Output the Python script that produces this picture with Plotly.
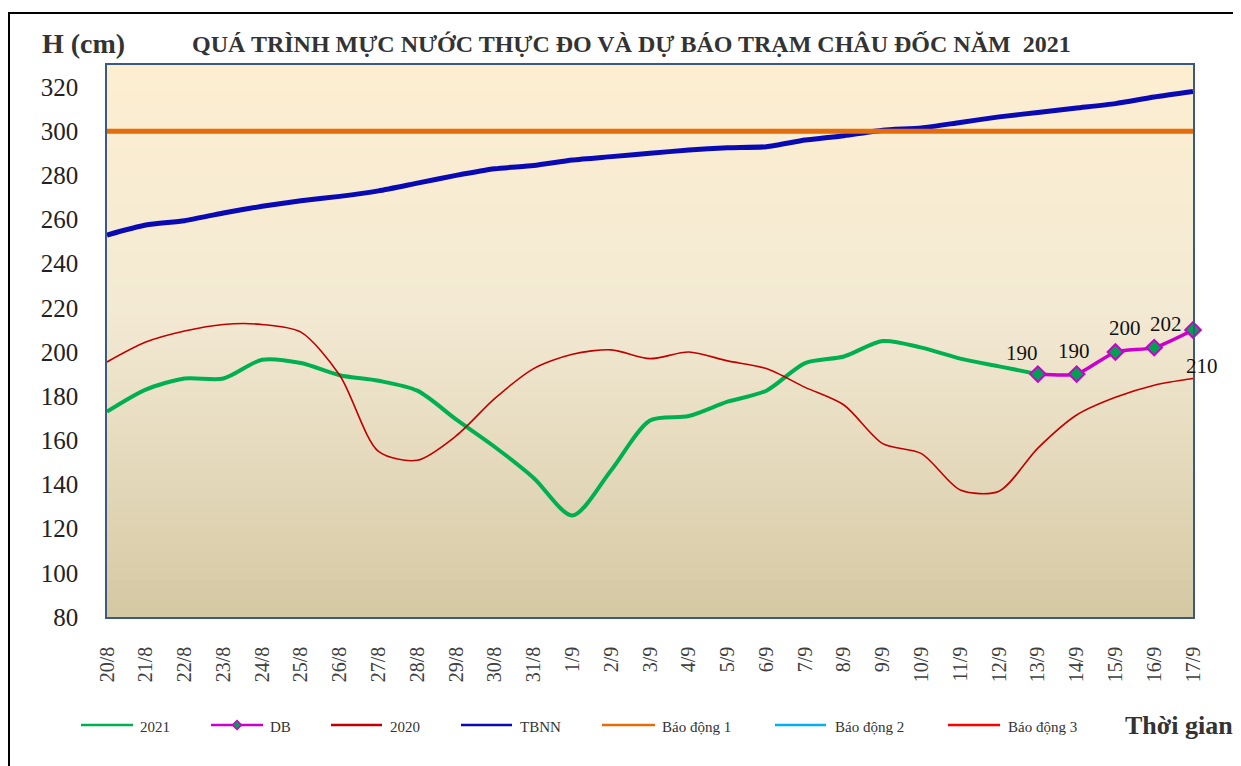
import plotly.graph_objects as go

dates = ["20/8", "21/8", "22/8", "23/8", "24/8", "25/8", "26/8", "27/8", "28/8", "29/8",
         "30/8", "31/8", "1/9", "2/9", "3/9", "4/9", "5/9", "6/9", "7/9", "8/9",
         "9/9", "10/9", "11/9", "12/9", "13/9", "14/9", "15/9", "16/9", "17/9"]

h2021 = [173, 183, 188, 188, 196.5, 195, 189.5, 187, 182.5, 169.5,
         157, 143, 126, 146.5, 169, 171, 177.5, 182.5, 195, 198,
         205, 202, 197, 193.5, 190, None, None, None, None]

db = [None] * 24 + [190, 190, 200, 202, 210]

h2020 = [195.5, 204.5, 209.5, 212.5, 212.5, 209, 189.5, 155, 151, 162,
         179, 192.5, 199, 201, 197, 200, 196, 192.5, 184, 176,
         158.5, 154, 137.5, 137, 156.5, 171.5, 179.5, 185, 188]

tbnn = [253, 257.5, 259.5, 263, 266, 268.5, 270.5, 273, 276.5, 280,
        283, 284.5, 287, 288.5, 290, 291.5, 292.5, 293, 296, 298,
        300.5, 301.5, 304, 306.5, 308.5, 310.5, 312.5, 315.5, 318]

bd1 = [300] * 29
bd2 = [350] * 29
bd3 = [400] * 29

yticks = [80, 100, 120, 140, 160, 180, 200, 220, 240, 260, 280, 300, 320]

serif = "Liberation Serif, Times New Roman, serif"

C2021, CDB, C2020, CTBNN = "#00B050", "#CC00CC", "#C00000", "#0A0AB4"
CBD1, CBD2, CBD3, CDBFILL = "#E46C0A", "#00B0F0", "#FF0000", "#00A050"

fig = go.Figure()
fig.add_trace(go.Scatter(x=dates, y=h2021, name="2021", mode="lines",
                         line=dict(color=C2021, width=4, shape="spline", smoothing=0.8)))
fig.add_trace(go.Scatter(x=dates, y=db, name="DB", mode="lines+markers", cliponaxis=False,
                         line=dict(color=CDB, width=3.5, shape="spline", smoothing=0.6),
                         marker=dict(symbol="diamond", size=12, color=CDBFILL,
                                     line=dict(color=CDB, width=2))))
fig.add_trace(go.Scatter(x=dates, y=h2020, name="2020", mode="lines",
                         line=dict(color=C2020, width=1.6, shape="spline", smoothing=0.8)))
fig.add_trace(go.Scatter(x=dates, y=tbnn, name="TBNN", mode="lines",
                         line=dict(color=CTBNN, width=5, shape="spline", smoothing=0.6)))
fig.add_trace(go.Scatter(x=dates, y=bd1, name="Báo động 1", mode="lines",
                         line=dict(color=CBD1, width=5)))
fig.add_trace(go.Scatter(x=dates, y=bd2, name="Báo động 2", mode="lines",
                         line=dict(color=CBD2, width=4)))
fig.add_trace(go.Scatter(x=dates, y=bd3, name="Báo động 3", mode="lines",
                         line=dict(color=CBD3, width=4)))

# ---- layout geometry (page pixels -> paper coords) ----
PL, PR, PT, PB = 107.0, 1193.0, 65.0, 617.0


def px(xp):
    return (xp - PL) / (PR - PL)


def py(yp):
    return (PB - yp) / (PB - PT)


def lerp(a, b, t):
    return tuple(round(a[i] + (b[i] - a[i]) * t) for i in range(3))


shapes = []
top_c = (253, 238, 208)
mid_c = (243, 234, 212)
bot_c = (213, 200, 163)
n = 60
for k in range(n):
    y0 = k / n
    y1 = (k + 1) / n
    yc = (y0 + y1) / 2
    if yc >= 0.55:
        c = lerp(mid_c, top_c, (yc - 0.55) / 0.45)
    else:
        c = lerp(bot_c, mid_c, yc / 0.55)
    shapes.append(dict(type="rect", xref="paper", yref="paper", x0=0, x1=1, y0=y0, y1=y1 + 0.002,
                       fillcolor="rgb(%d,%d,%d)" % c, line=dict(width=0), layer="below"))

# outer frame
shapes.append(dict(type="rect", xref="paper", yref="paper", x0=px(9), x1=px(1260), y0=py(790), y1=py(13),
                   line=dict(color="black", width=2), fillcolor="rgba(0,0,0,0)", layer="above"))

annotations = []

# data labels for forecast points
label_shift = {24: (-16, 21), 25: (-3, 23), 26: (10, 24), 27: (12, 24), 28: (9, -36)}
for i, v in enumerate(db):
    if v is None:
        continue
    dx, dy = label_shift.get(i, (0, 22))
    annotations.append(dict(x=dates[i], y=v, xref="x", yref="y", text=str(v), showarrow=False,
                            xanchor="center", yanchor="middle", xshift=dx, yshift=dy,
                            font=dict(family=serif, size=21, color="#111111")))

# manual legend
legend_items = [("2021", C2021, 81, 133, 138), ("DB", CDB, 211, 263, 268), ("2020", C2020, 331, 382, 388),
                ("TBNN", CTBNN, 461, 512, 518), ("Báo động 1", CBD1, 602, 655, 660),
                ("Báo động 2", CBD2, 775, 826, 833), ("Báo động 3", CBD3, 948, 1000, 1006)]
LY = 725
for name, col, x0, x1, tx in legend_items:
    shapes.append(dict(type="line", xref="paper", yref="paper", x0=px(x0), x1=px(x1), y0=py(LY), y1=py(LY),
                       line=dict(color=col, width=2.5)))
    annotations.append(dict(text=name, xref="paper", yref="paper", x=px(tx), y=py(LY + 2),
                            xanchor="left", yanchor="middle", showarrow=False,
                            font=dict(family=serif, size=15, color="#333333")))
    if name == "DB":
        cx = (x0 + x1) / 2
        d = 4.5
        path = "M %f,%f L %f,%f L %f,%f L %f,%f Z" % (
            px(cx), py(LY - d), px(cx + d), py(LY), px(cx), py(LY + d), px(cx - d), py(LY))
        shapes.append(dict(type="path", xref="paper", yref="paper", path=path,
                           fillcolor=CDBFILL, line=dict(color=CDB, width=1.5)))

annotations += [
    dict(text="<b>H (cm)</b>", xref="paper", yref="paper", x=px(83.5), y=py(44),
         xanchor="center", yanchor="middle", showarrow=False,
         font=dict(family=serif, size=28, color="#333333")),
    dict(text="<b>QUÁ TRÌNH MỰC NƯỚC THỰC ĐO VÀ DỰ BÁO TRẠM CHÂU ĐỐC NĂM  2021</b>",
         xref="paper", yref="paper", x=px(631.5), y=py(44), xanchor="center", yanchor="middle",
         showarrow=False, font=dict(family=serif, size=24, color="#333333")),
    dict(text="<b>Thời gian</b>", xref="paper", yref="paper", x=px(1235), y=py(726),
         xanchor="right", yanchor="middle", showarrow=False,
         font=dict(family=serif, size=26, color="#333333")),
]

# figure is placed 8px into the page by the body margin
W, H = 1233, 758
fig.update_layout(
    width=W, height=H,
    margin=dict(l=PL - 8, r=W - (PR - 8), t=PT - 8, b=H - (PB - 8), autoexpand=False),
    paper_bgcolor="white",
    plot_bgcolor="rgba(0,0,0,0)",
    font=dict(family=serif, color="#333333"),
    shapes=shapes,
    annotations=annotations,
    showlegend=False,
)

fig.update_xaxes(type="category", range=[0, 28], tickangle=-90, showgrid=False, zeroline=False,
                 showline=True, mirror=True, linecolor="#3A5A80", linewidth=1.5, ticks="",
                 ticklabelstandoff=20,
                 tickfont=dict(family=serif, size=20, color="#404040"))
fig.update_yaxes(range=[80, 330], tickvals=yticks, showgrid=False, zeroline=False,
                 showline=True, mirror=True, linecolor="#3A5A80", linewidth=1.5, ticks="",
                 ticklabelstandoff=22,
                 tickfont=dict(family=serif, size=25, color="#222222"))

fig.write_html("out.html")
